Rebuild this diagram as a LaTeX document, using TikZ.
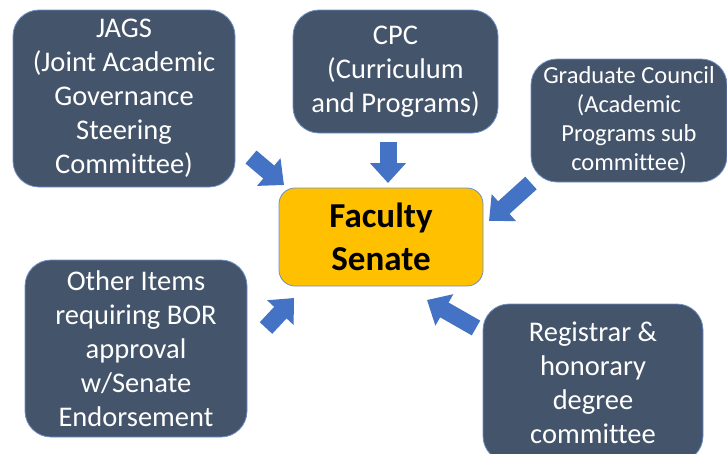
\documentclass[tikz,border=0pt]{standalone}
\usepackage{fontspec}
\setmainfont[Ligatures=NoCommon]{Carlito}
\usetikzlibrary{arrows.meta}
\definecolor{boxfill}{HTML}{44546A}
\definecolor{boxline}{HTML}{6F8FC9}
\definecolor{senatefill}{HTML}{FFC000}
\definecolor{arrowblue}{HTML}{4472C4}
\begin{document}
\begin{tikzpicture}[x=1pt,y=-1pt]
      \useasboundingbox (0,0) rectangle (727,453);
      % arrow ends
      \coordinate (jagsTail) at (251,157);
      \coordinate (jagsTip) at (284,185);
      \coordinate (cpcTail) at (388,142);
      \coordinate (cpcTip) at (388,183);
      \coordinate (gradTail) at (531,183);
      \coordinate (gradTip) at (489,221);
      \coordinate (otherTail) at (266,328);
      \coordinate (otherTip) at (294,298);
      \coordinate (regTail) at (476,328);
      \coordinate (regTip) at (427,300);
      \begin{scope}[every edge/.style={draw=arrowblue,line width=17pt,-{Triangle[length=20pt,width=35pt]}}]
        \path (jagsTail) edge (jagsTip);
        \path (cpcTail) edge (cpcTip);
        \path (gradTail) edge (gradTip);
        \path (otherTail) edge (otherTip);
        \path (regTail) edge (regTip);
      \end{scope}
      \begin{scope}[every node/.style={rectangle,rounded corners=26pt,draw=boxline,line width=0.8pt,fill=boxfill,text=white,align=center,inner sep=0pt,font=\fontsize{28.5}{34}\selectfont}]
        \node[minimum width=222pt,minimum height=177pt] (jags) at (124,98.5) {JAGS\\(Joint Academic\\Governance\\Steering\\Committee)};
        \node[minimum width=205pt,minimum height=123pt] (cpc) at (395.5,71.5) {CPC\\(Curriculum\\and Programs)};
        \node[minimum width=196pt,minimum height=123pt,font=\fontsize{24.5}{29}\selectfont] (grad) at (629,120.5) {Graduate Council\\(Academic\\Programs sub\\committee)};
        \node[minimum width=222pt,minimum height=177pt] (other) at (136,348.5) {Other Items\\requiring BOR\\approval\\w/Senate\\Endorsement};
        \node[minimum width=220pt,minimum height=158pt] (reg) at (593,383) {Registrar \&\\honorary\\degree\\committee};
        \node[minimum width=204pt,minimum height=98pt,rounded corners=16pt,fill=senatefill,text=black,font=\fontsize{35}{43}\selectfont\bfseries] (senate) at (381,237) {Faculty\\Senate};
      \end{scope}
    \end{tikzpicture}
\end{document}
